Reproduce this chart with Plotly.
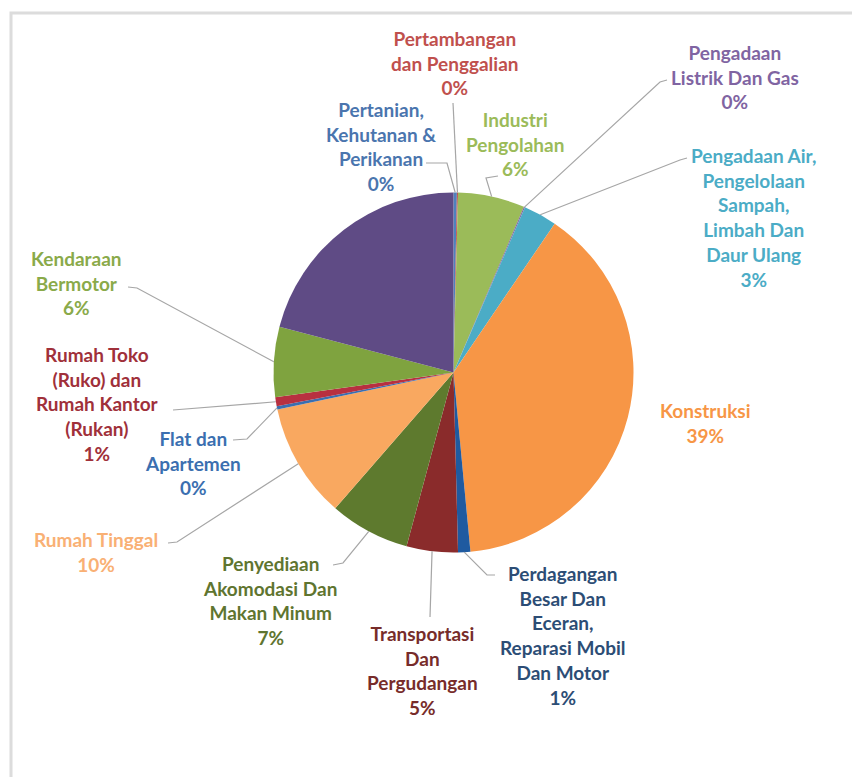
import plotly.graph_objects as go

# Sector shares (percent), clockwise from 12 o'clock
categories = [
    "Pertanian, Kehutanan & Perikanan",
    "Pertambangan dan Penggalian",
    "Industri Pengolahan",
    "Pengadaan Listrik Dan Gas",
    "Pengadaan Air, Pengelolaan Sampah, Limbah Dan Daur Ulang",
    "Konstruksi",
    "Perdagangan Besar Dan Eceran, Reparasi Mobil Dan Motor",
    "Transportasi Dan Pergudangan",
    "Penyediaan Akomodasi Dan Makan Minum",
    "Rumah Tinggal",
    "Flat dan Apartemen",
    "Rumah Toko (Ruko) dan Rumah Kantor (Rukan)",
    "Kendaraan Bermotor",
    "Lainnya",
]
values = [0.3, 0.1, 6.0, 0.1, 3.0, 39.0, 1.1, 4.6, 7.2, 10.3, 0.3, 0.8, 6.3, 20.9]

# Label text as laid out (line breaks), None = no label
label_lines = [
    ["Pertanian,", "Kehutanan &", "Perikanan"],
    ["Pertambangan", "dan Penggalian"],
    ["Industri", "Pengolahan"],
    ["Pengadaan", "Listrik Dan Gas"],
    ["Pengadaan Air,", "Pengelolaan", "Sampah,", "Limbah Dan", "Daur Ulang"],
    ["Konstruksi"],
    ["Perdagangan", "Besar Dan", "Eceran,", "Reparasi Mobil", "Dan Motor"],
    ["Transportasi", "Dan", "Pergudangan"],
    ["Penyediaan", "Akomodasi Dan", "Makan Minum"],
    ["Rumah Tinggal"],
    ["Flat dan", "Apartemen"],
    ["Rumah Toko", "(Ruko) dan", "Rumah Kantor", "(Rukan)"],
    ["Kendaraan", "Bermotor"],
    None,
]

slice_colors = [
    "#4F81BD", "#C0504D", "#9BBB59", "#8064A2", "#4BACC6", "#F79646",
    "#1F5AA0", "#8A2B2B", "#5E7A2E", "#F9A860", "#3B6FB0", "#B83040",
    "#7FA33F", "#5F4B85",
]
label_colors = [
    "#4A75AE", "#C0504D", "#9BBB59", "#8064A2", "#4BACC6", "#F79646",
    "#2C4D75", "#772C2A", "#5F7530", "#F9B074", "#3B6FB0", "#A0303A",
    "#8AAA4A", "#5F4B85",
]

W, H = 852, 777
CX, CY, R = 453.5, 372.5, 180.0


def px(x):
    return x / W


def py(y):
    return 1 - y / H


# Label block centres (pixels) and leader-line elbows (label side)
label_pos = {
    0: (381, 146), 1: (455, 63), 2: (515, 144), 3: (735, 77), 4: (753, 218),
    5: (705, 423), 6: (562, 635), 7: (422, 670), 8: (270, 600), 9: (96, 552),
    10: (193, 463), 11: (97, 404), 12: (76, 283),
}
leader_start = {
    0: [(426, 163), (447, 163)],
    1: [(453, 103)],
    2: [(498, 176), (486, 178)],
    3: [(667, 80), (660, 82)],
    4: [(687, 158), (680, 160)],
    6: [(495, 575), (487, 575)],
    7: [(430, 617)],
    8: [(333, 565), (343, 563)],
    9: [(168, 543), (177, 542)],
    10: [(233, 440), (247, 439)],
    11: [(173, 410)],
    12: [(128, 287), (137, 288)],
}

import math

total = sum(values)
mid_angles = []
acc = 0.0
for v in values:
    mid_angles.append(2 * math.pi * (acc + v / 2) / total)
    acc += v

fig = go.Figure()
fig.add_trace(go.Pie(
    labels=categories,
    values=values,
    sort=False,
    direction="clockwise",
    rotation=0,
    marker=dict(colors=slice_colors, line=dict(width=0)),
    textinfo="none",
    hoverinfo="label+percent",
    showlegend=False,
    domain=dict(x=[px(CX - R), px(CX + R)], y=[py(CY + R), py(CY - R)]),
))

shapes = []
# chart-area frame
shapes.append(dict(
    type="path", xref="paper", yref="paper",
    path=f"M {px(11)} {py(777)} L {px(11)} {py(13)} L {px(852)} {py(13)}",
    line=dict(color="#DCDCDC", width=3),
))

annotations = []
for i, lines in enumerate(label_lines):
    if lines is None:
        continue
    pct = f"{round(values[i] / total * 100)}%"
    text = "<br>".join(lines + [pct])
    x, y = label_pos[i]
    annotations.append(dict(
        x=px(x), y=py(y), xref="paper", yref="paper",
        text=text, showarrow=False, xanchor="center", yanchor="middle",
        align="center",
        font=dict(family="Lato", size=19, color=label_colors[i], weight="bold"),
    ))
    if i in leader_start:
        a = mid_angles[i]
        ex = CX + R * math.sin(a)
        ey = CY - R * math.cos(a)
        pts = leader_start[i] + [(ex, ey)]
        path = "M " + " L ".join(f"{px(p[0])} {py(p[1])}" for p in pts)
        shapes.append(dict(
            type="path", xref="paper", yref="paper", path=path,
            line=dict(color="#A6A6A6", width=1.2),
        ))

fig.update_layout(
    width=W, height=H,
    margin=dict(l=0, r=0, t=0, b=0),
    paper_bgcolor="white",
    plot_bgcolor="white",
    shapes=shapes,
    annotations=annotations,
)

fig.write_html("out.html")
